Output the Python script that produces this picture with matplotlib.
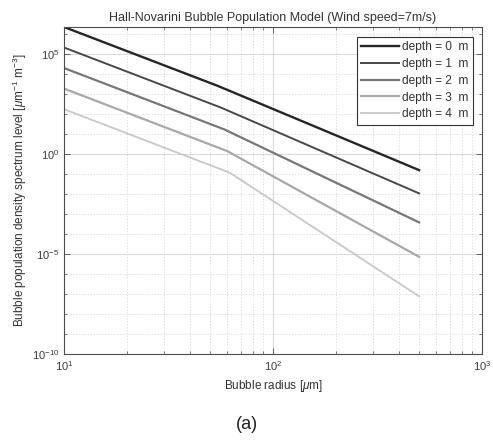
import numpy as np
import matplotlib
matplotlib.use("Agg")
import matplotlib.pyplot as plt
from matplotlib.ticker import LogLocator, NullFormatter, FixedLocator

plt.rcParams['font.family'] = ['Liberation Sans', 'DejaVu Sans']
plt.rcParams['mathtext.fontset'] = 'custom'
plt.rcParams['mathtext.rm'] = 'Liberation Sans'
plt.rcParams['mathtext.it'] = 'Liberation Sans:italic'
plt.rcParams['axes.unicode_minus'] = False

# data: break points of each depth curve
depths = [0, 1, 2, 3, 4]
radius = [
    [10, 54.4, 500],
    [10, 56.4, 500],
    [10, 58.4, 500],
    [10, 60.4, 500],
    [10, 62.3, 500],
]
density = [
    [2.19e6, 2.50e3, 1.54e-1],
    [2.07e5, 2.05e2, 1.06e-2],
    [1.95e4, 16.8, 3.77e-4],
    [1.83e3, 1.38, 7.18e-6],
    [1.71e2, 0.113, 7.55e-8],
]
colors = ['#262626', '#484848', '#777777', '#a8a8a8', '#c8c8c8']
widths = [1.7, 1.4, 1.6, 1.6, 1.3]

fig = plt.figure(figsize=(4.93, 4.44), dpi=100)
ax = fig.add_axes([0.1298, 0.2027, 0.848, 0.7365])

for d, r, n, c, w in zip(depths, radius, density, colors, widths):
    ax.loglog(r, n, color=c, lw=w, label='depth = %d  m' % d)

ax.set_xlim(10, 1000)
ax.set_ylim(1e-10, 2.19e6)

ax.yaxis.set_major_locator(FixedLocator([1e-10, 1e-5, 1e0, 1e5]))
ax.yaxis.set_minor_locator(FixedLocator([10.0**k for k in range(-10, 7)]))
ax.yaxis.set_minor_formatter(NullFormatter())
ax.xaxis.set_minor_locator(LogLocator(base=10, subs=np.arange(2, 10)))
ax.xaxis.set_minor_formatter(NullFormatter())

ax.grid(True, which='major', color='#d8d8d8', lw=0.7, ls='-')
ax.grid(True, which='minor', color='#d8d8d8', lw=0.6, ls=(0, (1.5, 2)))
ax.set_axisbelow(True)

ax.tick_params(which='both', direction='in', top=True, right=True,
               colors='#4d4d4d', labelcolor='#3a3a3a', labelsize=8)
ax.tick_params(which='major', length=4, width=0.6)
ax.tick_params(which='minor', length=2, width=0.5)
for s in ax.spines.values():
    s.set_color('#4d4d4d')
    s.set_linewidth(0.8)

ax.set_title('Hall-Novarini Bubble Population Model (Wind speed=7m/s)',
             fontsize=9, color='#333333', pad=4)
ax.set_xlabel(r'Bubble radius [$\mu$m]', fontsize=8.5, color='#333333')
ax.set_ylabel(r'Bubble population density spectrum level [$\mu$m$^{-1}$ m$^{-3}$]',
              fontsize=8.5, color='#333333', labelpad=2)

leg = ax.legend(loc='upper right', fontsize=8.6, handlelength=3.2,
                handletextpad=0.25, labelspacing=0.4, borderpad=0.35,
                borderaxespad=0, fancybox=False, framealpha=1,
                edgecolor='#333333', bbox_to_anchor=(0.978, 0.969))
leg.get_frame().set_linewidth(0.8)
for t in leg.get_texts():
    t.set_color('#333333')

fig.text(0.5, 0.043, '(a)', ha='center', va='center', fontsize=13, color='#222222')

fig.savefig('out.png', dpi=100)
